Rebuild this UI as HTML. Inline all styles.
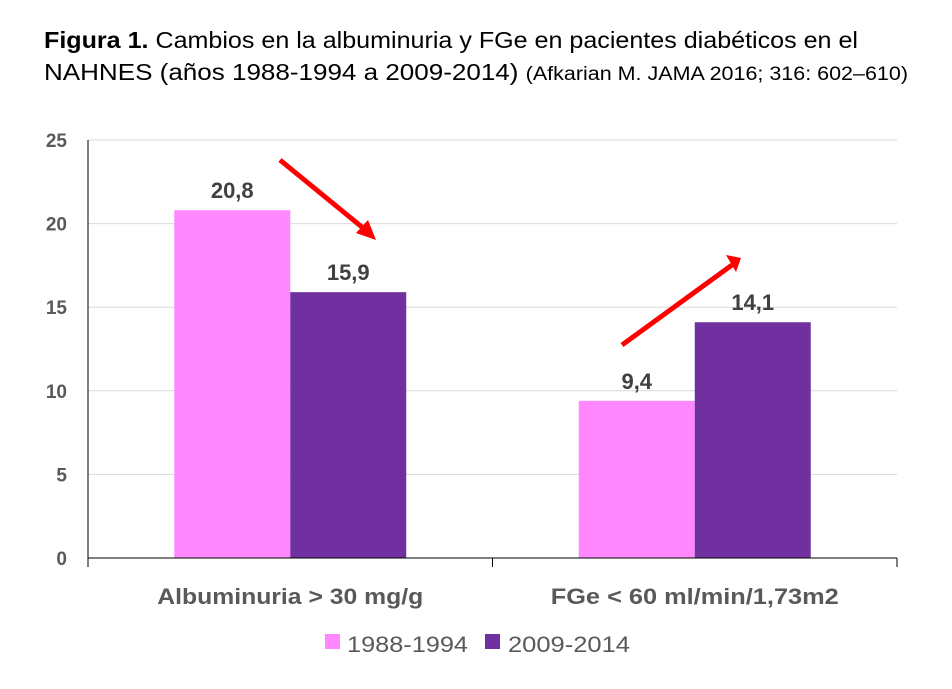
<!DOCTYPE html>
<html><head><meta charset="utf-8"><style>
body{margin:0;background:#fff;width:952px;height:689px;overflow:hidden}
svg{display:block;font-family:"Liberation Sans",sans-serif}
</style></head><body>
<svg id="c" width="952" height="689">
<text x="44" y="48" font-size="23" fill="#000" textLength="814" lengthAdjust="spacingAndGlyphs"><tspan font-weight="bold">Figura 1.</tspan> Cambios en la albuminuria y FGe en pacientes diabéticos en el</text>
<text x="44" y="80" font-size="23" fill="#000" textLength="864" lengthAdjust="spacingAndGlyphs">NAHNES (años 1988-1994 a 2009-2014) <tspan font-size="19">(Afkarian M. JAMA 2016; 316: 602–610)</tspan></text>
<g id="grid"></g><g id="bars"></g><g id="axes"></g>
<line x1="280" y1="160" x2="368" y2="232" stroke="#ff0000" stroke-width="5"/>
<polygon points="376,240 356,233 368,220" fill="#ff0000"/>
<line x1="622" y1="345" x2="732" y2="265" stroke="#ff0000" stroke-width="5"/>
<polygon points="741,258 726,255 736,272" fill="#ff0000"/>
<g>
<rect x="325" y="634" width="15" height="15" fill="#ff88ff"/>
<text x="347" y="652" font-size="22" fill="#595959" textLength="121" lengthAdjust="spacingAndGlyphs">1988-1994</text>
<rect x="485" y="634" width="15" height="15" fill="#7030a0"/>
<text x="508" y="652" font-size="22" fill="#595959" textLength="122" lengthAdjust="spacingAndGlyphs">2009-2014</text>
</g>
</svg>
<script>
const categories=["Albuminuria > 30 mg/g","FGe < 60 ml/min/1,73m2"];
const series1=[20.8,9.4];
const series2=[15.9,14.1];
const valueLabels1=["20,8","9,4"];
const valueLabels2=["15,9","14,1"];
const yTicks=[0,5,10,15,20,25];
const catLen=[266,288];
const NS="http://www.w3.org/2000/svg";
const x0=88,x1=897,y0=558,y1=140,yMax=25;
const yS=v=>y0-(v/yMax)*(y0-y1);
const cw=(x1-x0)/categories.length;
const bw=116;
function mk(t,a,p){const e=document.createElementNS(NS,t);for(const k in a)e.setAttribute(k,a[k]);p.appendChild(e);return e;}
const g=document.getElementById('grid'),b=document.getElementById('bars'),ax=document.getElementById('axes');
yTicks.forEach(v=>{
 if(v>0){const l=mk('line',{x1:x0,x2:x1,y1:yS(v),y2:yS(v),stroke:'#d9d9d9','stroke-width':1},g);
 
 }
 const t=mk('text',{x:67,y:yS(v)+7,'font-size':19,'font-weight':'bold','text-anchor':'end',fill:'#595959'},ax);
 t.textContent=v;
 
 
});
categories.forEach((c,i)=>{
 const cx=x0+cw*(i+0.5);
 const r1=mk('rect',{x:cx-bw,y:yS(series1[i]),width:bw,height:y0-yS(series1[i]),fill:'#ff88ff'},b);
 
 
 const r2=mk('rect',{x:cx,y:yS(series2[i]),width:bw,height:y0-yS(series2[i]),fill:'#7030a0'},b);
 
 
 const l1=mk('text',{x:cx-bw/2,y:yS(series1[i])-12,'font-size':22,'font-weight':'bold','text-anchor':'middle',fill:'#404040'},b);
 l1.textContent=valueLabels1[i];
 
 
 const l2=mk('text',{x:cx+bw/2,y:yS(series2[i])-12,'font-size':22,'font-weight':'bold','text-anchor':'middle',fill:'#404040'},b);
 l2.textContent=valueLabels2[i];
 
 
 const ct=mk('text',{x:cx-catLen[i]/2,y:604,'font-size':22,'font-weight':'bold',fill:'#595959',textLength:catLen[i],lengthAdjust:'spacingAndGlyphs'},ax);
 ct.textContent=c;
 
 
});
const ya=mk('line',{x1:x0,x2:x0,y1:y1,y2:y0,stroke:'#000','stroke-width':1},ax);


const xa=mk('line',{x1:x0,x2:x1,y1:y0,y2:y0,stroke:'#000','stroke-width':1},ax);


for(let i=0;i<=categories.length;i++){
 const tk=mk('line',{x1:x0+cw*i,x2:x0+cw*i,y1:y0,y2:y0+9,stroke:'#000','stroke-width':1},ax);
 
 
}
</script>
</body></html>
